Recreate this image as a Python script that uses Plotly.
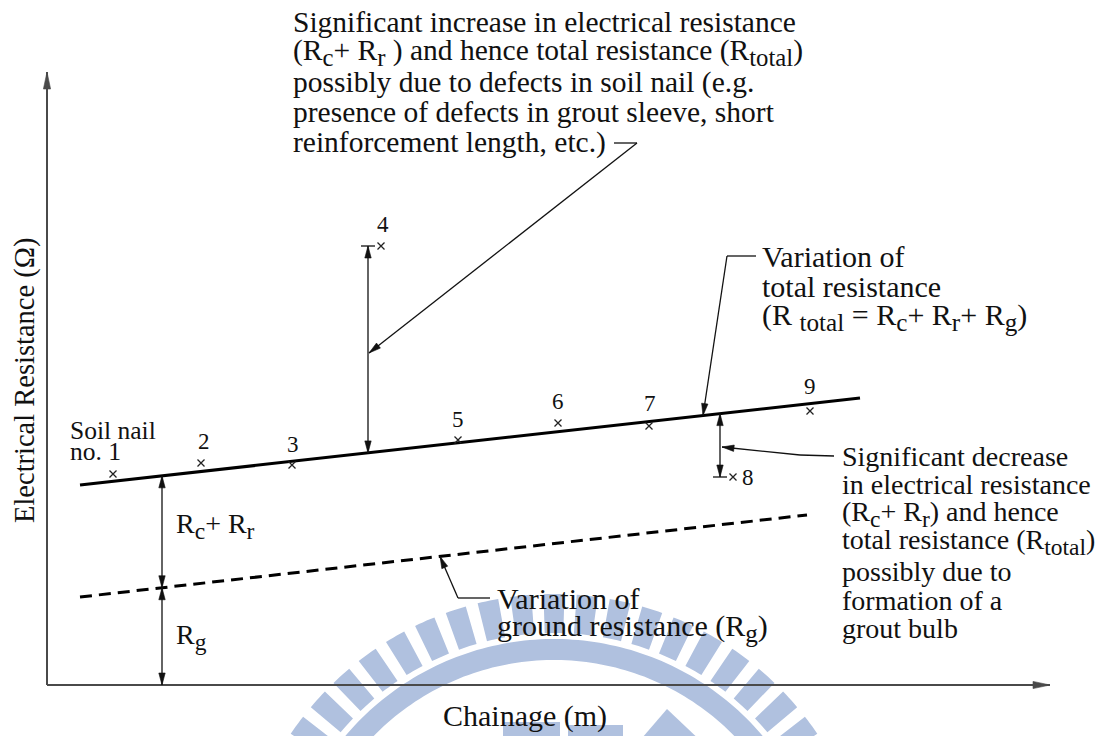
import numpy as np
import plotly.graph_objects as go

# ---------------- data (schematic units: chainage along x, resistance along y) ----------------
nail_ids = ["1", "2", "3", "4", "5", "6", "7", "8", "9"]
nail_chainage = [66, 154, 245, 334, 411, 511, 602, 686, 763]
nail_resistance = [211, 222, 220, 439, 245, 262, 259, 208, 274]

total_chainage = [33, 813]          # variation of total resistance (R_total)
total_resistance = [200, 287]
ground_chainage = [33, 760]         # variation of ground resistance (R_g)
ground_resistance = [88, 170]

# label placement for the nail numbers (pixel shifts, layout only)
label_shift = [(0, 0), (3, -22), (1, -21), (2, -22), (0, -21), (0, -22), (1, -23), (15, 0), (0, -25)]

FONT = "Liberation Serif, Times New Roman, DejaVu Serif, serif"
INK = "#111111"
AXIS = "#4a4a4a"
WM = "#b0c1df"

W, H = 1113, 736
OX, OY = 47, 685  # pixel position of the axes origin


def X(px):
    return px - OX


def Y(py):
    return OY - py


def PY(y):
    return OY - y


def sub(s):
    return f'<sub><span style="font-size:120%">{s}</span></sub>'


shapes = []
annotations = []


def seg(p0, p1, color=INK, width=1.3):
    shapes.append(dict(type="line", xref="x", yref="y",
                       x0=X(p0[0]), y0=Y(p0[1]), x1=X(p1[0]), y1=Y(p1[1]),
                       line=dict(color=color, width=width)))


def head(tip, tail, L=12, Wd=3.2, color=INK):
    tip = np.array(tip, float)
    tail = np.array(tail, float)
    u = (tip - tail) / np.linalg.norm(tip - tail)
    n = np.array([-u[1], u[0]])
    b = tip - L * u
    pts = [tip, b + Wd * n, b - Wd * n]
    path = "M " + " L ".join(f"{X(p[0]):.2f},{Y(p[1]):.2f}" for p in pts) + " Z"
    shapes.append(dict(type="path", xref="x", yref="y", path=path,
                       fillcolor=color, line=dict(color=color, width=0.6)))


def arrow(p0, p1, both=False, color=INK, width=1.3, L=12, Wd=3.2):
    seg(p0, p1, color, width)
    head(p1, p0, L, Wd, color)
    if both:
        head(p0, p1, L, Wd, color)


def leader(points):
    for a, b in zip(points[:-1], points[1:]):
        seg(a, b)
    head(points[-1], points[-2])


def text(s, px, py, size=28, anchor="left", angle=0):
    annotations.append(dict(text=s, x=X(px), y=Y(py), xref="x", yref="y",
                            xanchor=anchor, yanchor="middle", showarrow=False,
                            textangle=angle,
                            font=dict(family=FONT, size=size, color=INK)))


def total_at(px):
    return PY(np.interp(X(px), total_chainage, total_resistance))


def ground_at(px):
    return PY(np.interp(X(px), ground_chainage, ground_resistance))


# ---------------- watermark (decorative background) ----------------
cx, cy = 554, 912


def P(x, y):
    return f"{X(x):.1f},{Y(y):.1f}"


def annulus(r_in, r_out, a0, a1, n=160):
    a = np.radians(np.linspace(a0, a1, n))
    outer = [(cx + r_out * np.cos(t), cy - r_out * np.sin(t)) for t in a]
    inner = [(cx + r_in * np.cos(t), cy - r_in * np.sin(t)) for t in a[::-1]]
    pts = outer + inner
    return "M " + " L ".join(P(*p) for p in pts) + " Z"


teeth = []
for c in np.arange(0, 181, 6.0):
    teeth.append(annulus(279, 318, c - 1.9, c + 1.9, n=6))
shapes.append(dict(type="path", xref="x", yref="y", path=" ".join(teeth),
                   fillcolor=WM, line=dict(width=0), layer="below"))
shapes.append(dict(type="path", xref="x", yref="y", path=annulus(252, 273, 0, 180),
                   fillcolor=WM, line=dict(width=0), layer="below"))
for (x0, y0, x1, y1) in [(503, 722, 560, 745), (568, 725, 623, 745)]:
    shapes.append(dict(type="rect", xref="x", yref="y", x0=X(x0), y0=Y(y0), x1=X(x1), y1=Y(y1),
                       fillcolor=WM, line=dict(width=0), layer="below"))
shapes.append(dict(type="path", xref="x", yref="y",
                   path=f"M {P(667, 709)} L {P(636, 745)} L {P(705, 745)} Z",
                   fillcolor=WM, line=dict(width=0), layer="below"))

# ---------------- axes ----------------
arrow((OX, OY), (OX, 72), color=AXIS, width=2, L=17, Wd=3.6)
arrow((OX, OY), (1050, OY), color=AXIS, width=2, L=17, Wd=3.6)
text("Electrical Resistance (Ω)", 25, 381, size=28.5, anchor="center", angle=-90)
text("Chainage (m)", 525, 716, size=30, anchor="center")

# ---------------- dimension arrows ----------------
xd = 162
arrow((xd, total_at(xd)), (xd, ground_at(xd)), both=True)
arrow((xd, ground_at(xd)), (xd, OY), both=True)
text(f"R{sub('c')}+ R{sub('r')}", 174, 526, size=28)
text(f"R{sub('g')}", 174, 637, size=28)

# nail 4 (increase)
x4 = 368
y4 = PY(nail_resistance[3])
arrow((x4, y4), (x4, total_at(x4)), both=True)
seg((x4 - 7, y4), (x4 + 7, y4))
# nail 8 (decrease)
x8 = 720
y8 = PY(nail_resistance[7])
arrow((x8, total_at(x8)), (x8, y8), both=True)
seg((x8 - 7, y8), (x8 + 7, y8))

# ---------------- leaders + notes ----------------
leader([(614, 143), (637, 143), (x4 + 1, 353)])
top_lines = ["Significant increase in electrical resistance",
             f"(R{sub('c')}+ R{sub('r')} ) and hence total resistance (R{sub('total')})",
             "possibly due to defects in soil nail (e.g.",
             "presence of defects in grout sleeve, short",
             "reinforcement length, etc.)"]
for i, s in enumerate(top_lines):
    text(s, 291, 22 + 30 * i, size=29.5)

leader([(756, 256), (727, 256), (703, total_at(703))])
for i, s in enumerate(["Variation of", "total resistance",
                       f"(R {sub('total')} = R{sub('c')}+ R{sub('r')}+ R{sub('g')})"]):
    text(s, 760, 256 + 30.5 * i, size=30)

leader([(834, 456), (800, 455), (x8 + 2, 447)])
for i, s in enumerate(["Significant decrease", "in electrical resistance",
                       f"(R{sub('c')}+ R{sub('r')}) and hence",
                       f"total resistance (R{sub('total')})",
                       "possibly due to", "formation of a", "grout bulb"]):
    text(s, 840, 456 + 28.8 * i, size=28)

leader([(490, 598), (458, 598), (440, ground_at(440))])
text("Variation of", 495, 598, size=30)
text(f"ground resistance (R{sub('g')})", 495, 628, size=30)

# ---------------- traces ----------------
fig = go.Figure()
fig.add_trace(go.Scatter(x=ground_chainage, y=ground_resistance, mode="lines",
                         line=dict(color="#000000", width=3, dash="12px,7px"),
                         hoverinfo="skip"))
fig.add_trace(go.Scatter(x=total_chainage, y=total_resistance, mode="lines",
                         line=dict(color="#000000", width=3), hoverinfo="skip"))
fig.add_trace(go.Scatter(x=nail_chainage, y=nail_resistance, mode="markers",
                         marker=dict(symbol="x-thin", size=7, line=dict(color="#222222", width=1.3)),
                         text=nail_ids, hoverinfo="text"))

# nail labels
for nid, xc, yr, (sx, sy) in zip(nail_ids, nail_chainage, nail_resistance, label_shift):
    if nid == "1":
        annotations.append(dict(text="Soil nail", x=X(68), y=Y(430), xref="x", yref="y",
                                xanchor="left", yanchor="middle", showarrow=False,
                                font=dict(family=FONT, size=25.5, color=INK)))
        annotations.append(dict(text="no. 1", x=X(68), y=Y(451), xref="x", yref="y",
                                xanchor="left", yanchor="middle", showarrow=False,
                                font=dict(family=FONT, size=25.5, color=INK)))
        continue
    annotations.append(dict(text=nid, x=xc, y=yr, xref="x", yref="y",
                            xshift=sx, yshift=-sy, xanchor="center", yanchor="middle",
                            showarrow=False, font=dict(family=FONT, size=23, color=INK)))

fig.update_layout(
    width=W, height=H,
    margin=dict(l=0, r=0, t=0, b=0),
    paper_bgcolor="white", plot_bgcolor="white",
    showlegend=False,
    xaxis=dict(range=[X(0), X(W)], visible=False, fixedrange=True),
    yaxis=dict(range=[Y(H), Y(0)], visible=False, fixedrange=True),
    shapes=shapes,
    annotations=annotations,
)

fig.write_html("out.html")
